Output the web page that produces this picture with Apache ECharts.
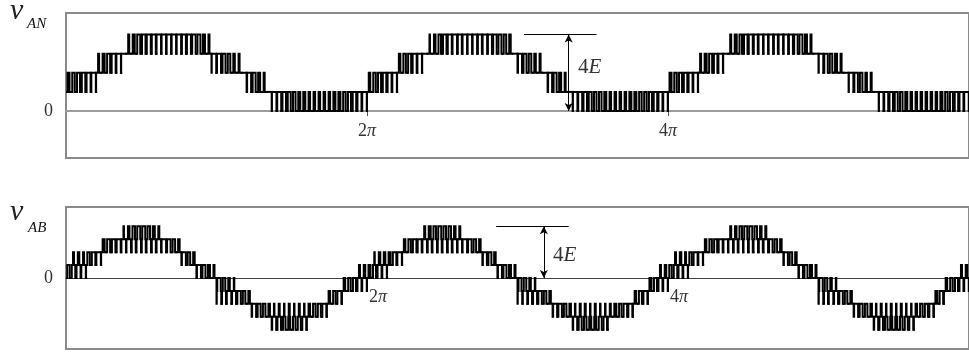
<!DOCTYPE html>
<html><head><meta charset="utf-8">
<script src="https://cdn.jsdelivr.net/npm/echarts@6/dist/echarts.min.js"></script>
<style>html,body{margin:0;padding:0;background:#fff}#c{width:969px;height:352px}</style>
</head><body><div id="c"></div>
<script>
// carrier cycles per fundamental period (2π); x axis is in units of π
const cyclesPerPeriod = 60;
const xTickValues = [2, 4];
const xTickLabels = ['2', '4'];
const yZeroLabel = ['0'];

// v_AN: per carrier cycle, lower level (in E) and duty (tenths) spent at lower+1
const anLow = [
  1,1,1,1,1,1, 2,2,2,2,2, 3, 3,3,3,3,3,3,3,3,3,3,3,3,3,3,3,3,3, 2,2,2,2,2,2, 2, 1,1,1,1, 1, 0,0,0,0,0,0,0,0,0,0,0,0,0,0,0,0,0,0,0,
  1,1,1,1,1,1, 2,2,2,2,2, 3, 3,3,3,3,3,3,3,3,3,3,3,3,3,3,3,3,3, 3, 2,2,2,2,2, 2, 1,1,1,1, 1, 0,0,0,0,0,0,0,0,0,0,0,0,0,0,0,0,0,0,0,
  1,1,1,1,1,1, 2,2,2,2,2, 3, 3,3,3,3,3,3,3,3,3,3,3,3,3,3,3,3,3, 3, 2,2,2,2,2, 2, 1,1,1,1,1, 1, 0,0,0,0,0,0,0,0,0,0,0,0,0,0,0,0,0,0
];
const anDuty = [
  4,5,6,7,8,9, 2,4,6,8,9, 0, 2,4,6,7,8,8,9,9,9,9,9,8,8,7,6,4,2, 9,8,6,5,3,2, 0, 8,6,4,2, 0, 9,8,7,6,5,4,4,3,3,3,3,3,4,4,5,6,7,8,9,
  3,5,6,7,8,9, 3,5,6,8,9, 0, 1,3,5,7,8,9,8,9,9,9,8,9,8,7,6,5,3, 0, 8,6,5,3,2, 0, 8,6,4,2, 0, 9,8,7,6,5,5,4,3,3,3,3,4,4,5,5,6,7,8,9,
  4,5,6,7,8,9, 2,4,6,7,9, 0, 2,4,5,7,8,8,9,9,9,8,9,9,8,7,6,4,2, 0, 9,7,5,4,2, 0, 9,7,5,3,2, 0, 9,8,7,6,5,4,3,3,3,3,3,3,4,5,6,7,8,9
];

// v_AB: per carrier cycle, lower level, duty at >= lower+1, duty at lower+2 (tenths)
const abLow = [
  0,0,0,0,1,1,1, 2,2,2,2, 2,2,2,2,2,2,2,2, 2,2,2,2, 1,1,1, 0,0,0,0, -2,-2,-2,-2, -2,-2,-2, -3,-3,-3,-3, -4,-4,-4,-4,-4,-4,-4, -3,-3,-3,-3, -2,-2,-2, -1,-1,-1,-1,-1,
  0,0,0,0,1,1,1, 2,2,2,2, 2,2,2,2,2,2,2,2, 2,2,2,2, 1,1,1, 0,0,0,0, -2,-2,-2,-2, -2,-2,-2, -3,-3,-3,-3, -4,-4,-4,-4,-4,-4,-4, -3,-3,-3,-3,-3, -2,-2,-2, -1,-1,-1,-1,
  0,0,0,0,1,1,1, 2,2,2,2,2, 2,2,2,2,2,2,2,2, 2,2,2, 1,1,1, 0,0,0,0, -2,-2,-2,-2, -2,-2,-2, -3,-3,-3,-3, -4,-4,-4,-4,-4,-4,-4,-4, -3,-3,-3,-3, -2,-2, -1,-1,-1,-1,-1
];
const abDuty1 = [
  5,7,8,9,5,7,9, 4,6,7,8, 9,9,8,9,8,9,8,9, 9,7,5,3, 8,5,3, 8,6,4,2, 9,8,9,8, 7,5,3, 8,6,5,3, 8,7,5,4,5,6,8, 3,5,6,8, 3,5,8, 3,5,6,8,9,
  4,6,8,9,4,7,9, 3,5,7,8, 9,8,9,8,9,8,9,9, 9,7,5,3, 8,6,3, 8,6,4,2, 9,9,8,8, 7,5,3, 8,7,5,3, 8,6,5,4,4,6,7, 2,4,5,7,8, 3,6,8, 4,6,8,9,
  5,7,8,9,5,8,9, 3,5,6,8,9, 9,8,9,9,8,9,8,9, 7,5,3, 8,5,3, 8,6,4,2, 9,8,9,8, 7,5,3, 8,6,5,3, 8,7,5,4,4,5,6,8, 3,5,6,8, 4,7, 3,5,6,8,9
];
const abDuty2 = [
  0,2,3,2,0,0,0, 0,0,0,0, 1,3,5,6,6,5,4,2, 0,0,0,0, 0,0,0, 0,0,0,0, 7,5,3,1, 0,0,0, 0,0,0,0, 1,2,1,2,1,2,1, 0,0,0,0, 0,0,0, 0,0,0,2,3,
  0,1,3,3,0,0,0, 0,0,0,0, 2,4,5,6,5,5,3,2, 0,0,0,0, 0,0,0, 0,0,0,0, 6,5,3,1, 0,0,0, 0,0,0,0, 1,2,2,1,2,1,1, 0,0,0,0,0, 0,0,0, 0,0,2,3,
  0,2,3,2,0,0,0, 0,0,0,0,0, 2,3,5,6,6,5,3,2, 0,0,0, 0,0,0, 0,0,0,0, 7,5,3,1, 0,0,0, 0,0,0,0, 1,2,1,2,1,2,1,1, 0,0,0,0, 0,0, 0,0,0,2,3
];

const T = 2 / cyclesPerPeriod;
// one data row per carrier cycle: [start, low, duty1, duty2, previous low]
function cycleRows(low, d1, d2) {
  return low.map((lo, i) => [i * T, lo, d1[i], d2 ? d2[i] : 0, i > 0 ? low[i - 1] : lo]);
}
function renderCycle(params, api) {
  const t0 = api.value(0), lo = api.value(1), a = api.value(2) / 10, b = api.value(3) / 10, prev = api.value(4);
  const pts = [[t0, prev], [t0, lo]];
  if (a > 0) {
    const s = t0 + T * (1 - a) / 2, e = t0 + T * (1 + a) / 2;
    pts.push([s, lo], [s, lo + 1]);
    if (b > 0) {
      const s2 = t0 + T * (1 - b) / 2, e2 = t0 + T * (1 + b) / 2;
      pts.push([s2, lo + 1], [s2, lo + 2], [e2, lo + 2], [e2, lo + 1]);
    }
    pts.push([e, lo + 1], [e, lo]);
  }
  pts.push([t0 + T, lo]);
  return {
    type: 'polyline', silent: true,
    shape: {points: pts.map(p => api.coord(p))},
    style: {stroke: '#000', fill: null, lineWidth: 2, lineJoin: 'miter', lineCap: 'square'}
  };
}

const serif = "'Liberation Serif','DejaVu Serif',serif";
const piRich = {
  n: {fontFamily: serif, fontSize: 18, color: '#333'},
  p: {fontFamily: serif, fontStyle: 'italic', fontSize: 18, color: '#333'}
};
function piText(i) { return '{n|' + xTickLabels[i] + '}{p|π}'; }
function tickMarks(pos, align) {
  return {
    silent: true, animation: false, symbol: 'rect', symbolSize: 0,
    label: {show: true, position: pos, align: align, verticalAlign: 'top', rich: piRich,
      formatter: p => piText(p.dataIndex)},
    data: xTickValues.map(v => ({coord: [v, 0]}))
  };
}
const yLab = {customValues: [0], formatter: () => yZeroLabel[0], margin: 13,
  fontFamily: serif, fontSize: 18, color: '#333'};

const chart = echarts.init(document.getElementById('c'), null, {renderer: 'canvas'});
chart.setOption({
  animation: false,
  grid: [
    {left: 66, top: 13, width: 909, height: 145, show: true, borderColor: '#8a8a8a', borderWidth: 2},
    {left: 66, top: 207, width: 909, height: 142, show: true, borderColor: '#8a8a8a', borderWidth: 2}
  ],
  xAxis: [
    {gridIndex: 0, type: 'value', min: 0, max: 6,
     axisLine: {onZero: true, lineStyle: {color: '#9c9c9c', width: 2}},
     axisTick: {customValues: xTickValues, length: 5, lineStyle: {color: '#555', width: 1}},
     axisLabel: {show: false}, splitLine: {show: false}},
    {gridIndex: 1, type: 'value', min: 0, max: 6,
     axisLine: {onZero: true, lineStyle: {color: '#444', width: 1}},
     axisTick: {show: false}, axisLabel: {show: false}, splitLine: {show: false}}
  ],
  yAxis: [
    {gridIndex: 0, type: 'value', min: -2.46, max: 5.13, axisLine: {show: false}, axisTick: {show: false},
     splitLine: {show: false}, axisLabel: yLab},
    {gridIndex: 1, type: 'value', min: -5.5, max: 5.5, axisLine: {show: false}, axisTick: {show: false},
     splitLine: {show: false}, axisLabel: yLab}
  ],
  series: [
    {type: 'custom', xAxisIndex: 0, yAxisIndex: 0, data: cycleRows(anLow, anDuty),
     encode: {x: 0, y: 1}, renderItem: renderCycle, clip: true, silent: true,
     markPoint: tickMarks([0, 11], 'center'),
     markLine: {silent: true, symbol: 'none', animation: false, label: {show: false},
       lineStyle: {color: '#000', width: 1, type: 'solid'},
       data: [
         [{coord: [3.043, 4]}, {coord: [3.525, 4]}],
         [{coord: [3.34, 4], symbol: 'arrow', symbolSize: [6, 8]}, {coord: [3.34, 0], symbol: 'arrow', symbolSize: [6, 8]}]
       ]}},
    {type: 'custom', xAxisIndex: 1, yAxisIndex: 1, data: cycleRows(abLow, abDuty1, abDuty2),
     encode: {x: 0, y: 1}, renderItem: renderCycle, clip: true, silent: true,
     markPoint: tickMarks([2, 10], 'left'),
     markLine: {silent: true, symbol: 'none', animation: false, label: {show: false},
       lineStyle: {color: '#000', width: 1, type: 'solid'},
       data: [
         [{coord: [2.858, 4]}, {coord: [3.34, 4]}],
         [{coord: [3.175, 4], symbol: 'arrow', symbolSize: [6, 8]}, {coord: [3.175, 0], symbol: 'arrow', symbolSize: [6, 8]}]
       ]}}
  ],
  graphic: [
    {type: 'text', x: 10, y: 11, style: {text: 'v', font: 'italic 30px ' + serif, fill: '#222', verticalAlign: 'middle'}},
    {type: 'text', x: 27, y: 24, style: {text: 'AN', font: 'italic 15px ' + serif, fill: '#111', verticalAlign: 'middle'}},
    {type: 'text', x: 10, y: 212, style: {text: 'v', font: 'italic 30px ' + serif, fill: '#222', verticalAlign: 'middle'}},
    {type: 'text', x: 28, y: 228, style: {text: 'AB', font: 'italic 15px ' + serif, fill: '#111', verticalAlign: 'middle'}},
    {type: 'text', x: 578, y: 67, style: {text: '{n|4}{e|E}', verticalAlign: 'middle',
      rich: {n: {font: '21px ' + serif, fill: '#333'}, e: {font: 'italic 21px ' + serif, fill: '#333'}}}},
    {type: 'text', x: 553, y: 255, style: {text: '{n|4}{e|E}', verticalAlign: 'middle',
      rich: {n: {font: '21px ' + serif, fill: '#333'}, e: {font: 'italic 21px ' + serif, fill: '#333'}}}}
  ]
});
</script></body></html>
